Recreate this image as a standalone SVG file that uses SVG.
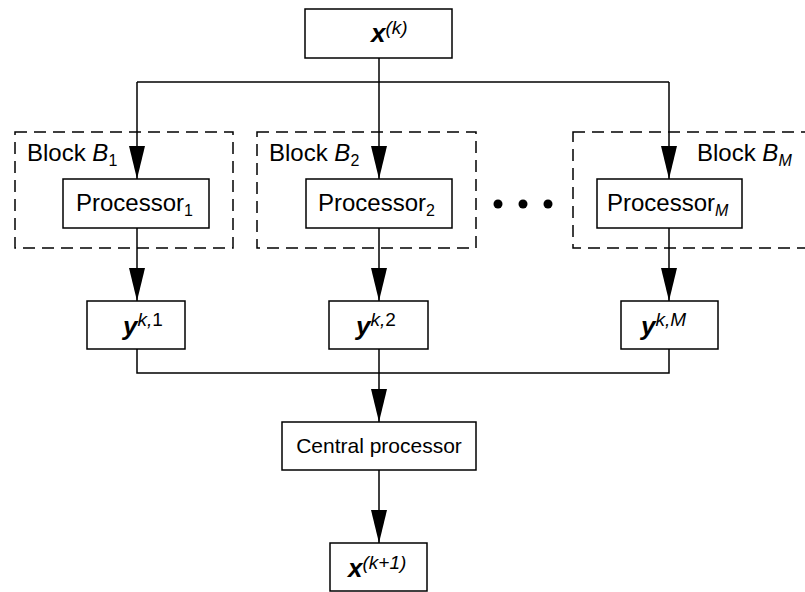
<svg xmlns="http://www.w3.org/2000/svg" width="805" height="592" viewBox="0 0 805 592">
<style>
.box{fill:#fff;stroke:#000;stroke-width:1.5}
.blk{fill:none;stroke:#000;stroke-width:1.5;stroke-dasharray:12 7}
.ln{fill:none;stroke:#000;stroke-width:1.5}
text{font-family:"Liberation Sans",Arial,sans-serif;fill:#000}
.t24{font-size:24px}
.t21{font-size:21px}
.m{font-size:26px;font-weight:bold;font-style:italic}
.sup{font-size:19px;font-weight:normal;font-style:italic}
.sub{font-size:16px}
.it{font-style:italic}
</style>
<defs>
<marker id="ah" markerUnits="userSpaceOnUse" markerWidth="33" markerHeight="16" refX="33" refY="8" orient="auto">
<path d="M0,0 L33,8 L0,16 z" fill="#000"/>
</marker>
</defs>
<g id="connectors">
<path class="ln" d="M379,58 V179" marker-end="url(#ah)"/>
<path class="ln" d="M137,82 H669"/>
<path class="ln" d="M137,82 V179" marker-end="url(#ah)"/>
<path class="ln" d="M669,82 V179" marker-end="url(#ah)"/>
<path class="ln" d="M137,228 V301" marker-end="url(#ah)"/>
<path class="ln" d="M379,228 V301" marker-end="url(#ah)"/>
<path class="ln" d="M669,228 V301" marker-end="url(#ah)"/>
<path class="ln" d="M137,349 V373 H669 V349"/>
<path class="ln" d="M379,349 V422" marker-end="url(#ah)"/>
<path class="ln" d="M379,470 V543" marker-end="url(#ah)"/>
</g>
<g id="xk">
<rect class="box" x="305" y="9" width="147" height="49"/>
<text x="371" y="42" class="m">x<tspan class="sup" dy="-8">(k)</tspan></text>
</g>
<g id="block1">
<rect class="blk" x="15" y="132" width="218" height="116"/>
<text x="27" y="161" class="t24">Block <tspan class="it">B</tspan><tspan class="sub" dy="5">1</tspan></text>
</g>
<g id="block2">
<rect class="blk" x="257" y="132" width="219" height="116"/>
<text x="269" y="161" class="t24">Block <tspan class="it">B</tspan><tspan class="sub" dy="5">2</tspan></text>
</g>
<g id="blockM">
<rect class="blk" x="573" y="132" width="250" height="116"/>
<text x="697" y="161" class="t24">Block <tspan class="it">B</tspan><tspan class="sub it" dy="5">M</tspan></text>
</g>
<g id="proc1">
<rect class="box" x="63" y="179" width="146" height="49"/>
<text x="76" y="211" class="t24">Processor<tspan class="sub" dy="5">1</tspan></text>
</g>
<g id="proc2">
<rect class="box" x="306" y="179" width="146" height="49"/>
<text x="318" y="211" class="t24">Processor<tspan class="sub" dy="5">2</tspan></text>
</g>
<g id="procM">
<rect class="box" x="597" y="179" width="145" height="49"/>
<text x="607" y="211" class="t24">Processor<tspan class="sub it" dy="5">M</tspan></text>
</g>
<g id="dots">
<circle cx="498" cy="204" r="4.5"/>
<circle cx="523" cy="204" r="4.5"/>
<circle cx="548" cy="204" r="4.5"/>
</g>
<g id="y1">
<rect class="box" x="87" y="301" width="98" height="48"/>
<text x="123" y="335" class="m">y<tspan class="sup" dy="-9">k,</tspan><tspan class="sup" style="font-style:normal">1</tspan></text>
</g>
<g id="y2">
<rect class="box" x="329" y="301" width="99" height="48"/>
<text x="356" y="335" class="m">y<tspan class="sup" dy="-9">k,</tspan><tspan class="sup" style="font-style:normal">2</tspan></text>
</g>
<g id="yM">
<rect class="box" x="621" y="301" width="97" height="48"/>
<text x="641" y="335" class="m">y<tspan class="sup" dy="-9">k,M</tspan></text>
</g>
<g id="central">
<rect class="box" x="282" y="422" width="194" height="48"/>
<text x="379" y="453" class="t21" text-anchor="middle">Central processor</text>
</g>
<g id="xk1">
<rect class="box" x="330" y="543" width="97" height="48"/>
<text x="348" y="577" class="m">x<tspan class="sup" dy="-8">(k+1)</tspan></text>
</g>
</svg>
